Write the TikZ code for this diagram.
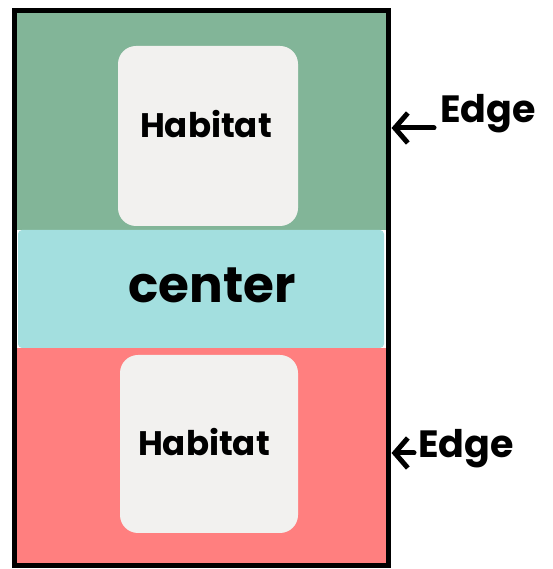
\documentclass[tikz,border=0pt]{standalone}
\usepackage{fontspec}
\setmainfont{Poppins}
\usetikzlibrary{arrows.meta}
\definecolor{zgreen}{HTML}{82B598}
\definecolor{zcyan}{HTML}{A3DFDF}
\definecolor{zred}{HTML}{FF7F7F}
\definecolor{zbox}{HTML}{F2F1EF}
\tikzset{
  habitatbox/.style={fill=zbox, rounded corners=18pt, inner sep=0pt, minimum width=180pt, minimum height=180pt},
  habitattext/.style={font=\fontsize{34}{36}\selectfont\bfseries, inner sep=0pt},
  edgelabel/.style={font=\fontsize{38}{40}\selectfont\bfseries, inner sep=0pt, anchor=west},
  edgearrow/.style={draw=black, line width=5pt, line cap=round, line join=round, -{Straight Barb[length=13pt,width=30pt]}}
}
\begin{document}
\begin{tikzpicture}[x=1pt,y=1pt]
\useasboundingbox (0,0) rectangle (552,569);
% regions (y measured from bottom: 569 - pixel y)
\fill[zgreen] (14,339) rectangle (388,558);
\fill[zred] (14,3) rectangle (388,221);
\node[fill=zcyan, rounded corners=4pt, minimum width=366pt, minimum height=118pt, inner sep=0pt] (center) at (201,280) {};
\node[font=\fontsize{50}{52}\selectfont\bfseries, inner sep=0pt] (centertext) at (212,284) {center};
\node[habitatbox] (hab1) at (208,433) {};
\node[habitatbox, minimum width=178pt, minimum height=178pt] (hab2) at (209,125) {};
\node[habitattext] (hab1t) at (206,445) {Habitat};
\node[habitattext] (hab2t) at (204,127) {Habitat};
\node[draw, line width=5pt, minimum width=374pt, minimum height=555pt, inner sep=0pt] (outer) at (201,280.5) {};
% edge labels
\node[edgelabel] (edge1) at (440,455) {Edge};
\node[edgelabel] (edge2) at (418,120) {Edge};
\coordinate (tip1) at ([xshift=1pt]outer.east |- 0,441);
\coordinate (tip2) at ([xshift=1pt]outer.east |- 0,116);
\coordinate (start1) at ([xshift=-6pt]edge1.west |- tip1);
\coordinate (start2) at ([xshift=-4pt]edge2.west |- tip2);
\path[edgearrow] (start1) -- (tip1);
\path[edgearrow] (start2) -- (tip2);
\end{tikzpicture}
\end{document}
